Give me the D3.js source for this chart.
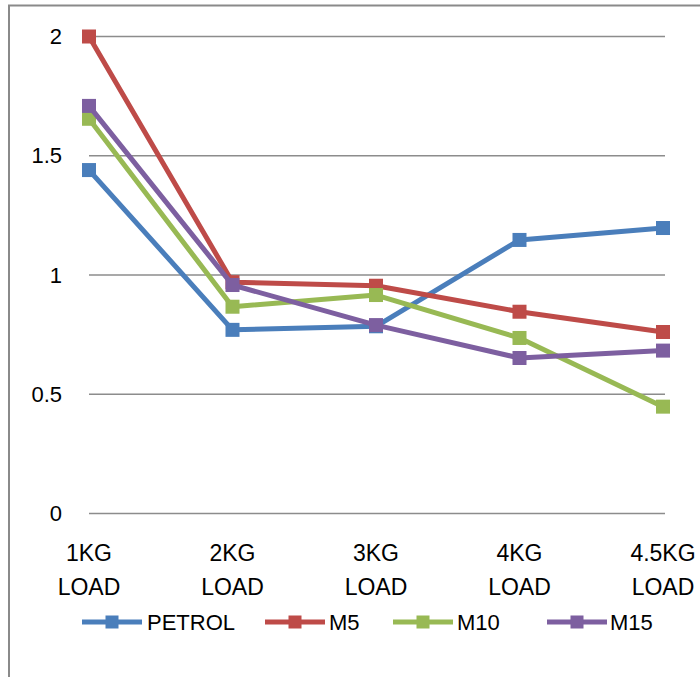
<!DOCTYPE html>
<html><head><meta charset="utf-8">
<script src="https://cdn.jsdelivr.net/npm/d3@7"></script>
<style>
html,body{margin:0;padding:0;background:#fff;}
svg{display:block;font-family:"Liberation Sans",Arial,sans-serif;}
</style></head>
<body>
<svg id="chart" width="700" height="677"></svg>
<script>
const categories = ["1KG LOAD","2KG LOAD","3KG LOAD","4KG LOAD","4.5KG LOAD"];
const seriesNames = ["PETROL","M5","M10","M15"];
const petrol = [1.44, 0.77, 0.785, 1.147, 1.197];
const m5 = [2.0, 0.97, 0.955, 0.846, 0.761];
const m10 = [1.655, 0.867, 0.916, 0.736, 0.448];
const m15 = [1.709, 0.958, 0.79, 0.652, 0.683];
const yTicks = [0, 0.5, 1, 1.5, 2];
const colors = ["#4A7EBB", "#BE4B48", "#98B954", "#7D5FA0"];

const series = [petrol, m5, m10, m15].map((v, i) => ({name: seriesNames[i], values: v, color: colors[i]}));

const svg = d3.select("#chart");
// outer frame
svg.append("path").attr("d", "M9,677 L9,5.5 L700,5.5").attr("fill", "none").attr("stroke", "#8a8a8a").attr("stroke-width", 2);

const x = d3.scalePoint().domain(categories).range([89, 663]);
const y = d3.scaleLinear().domain([0, 2]).range([513.5, 36.5]);

// gridlines
svg.append("g").selectAll("line").data(yTicks).join("line")
  .attr("x1", 89).attr("x2", 665)
  .attr("y1", d => y(d)).attr("y2", d => y(d))
  .attr("stroke", "#8c8c8c").attr("stroke-width", 1.5);

// y axis labels
const yAxis = d3.axisLeft(y).tickValues(yTicks).tickSize(0).tickPadding(0).tickFormat(d3.format("~g"));
const gy = svg.append("g").attr("transform", "translate(62,0)").call(yAxis);
gy.select(".domain").remove();
gy.selectAll("text").attr("font-size", 22).attr("fill", "#000").attr("font-family", "Liberation Sans, Arial, sans-serif");

// x axis labels (two lines)
const gx = svg.append("g");
categories.forEach(c => {
  const parts = c.split(" ");
  const t = gx.append("text").attr("text-anchor", "middle").attr("font-size", 23).attr("fill", "#000");
  t.append("tspan").attr("x", x(c)).attr("y", 561).text(parts[0]);
  t.append("tspan").attr("x", x(c)).attr("y", 595).text(parts[1]);
});

const line = d3.line().x((d, i) => x(categories[i])).y(d => y(d));

series.forEach(s => {
  const g = svg.append("g");
  g.append("path").datum(s.values).attr("d", line)
    .attr("fill", "none").attr("stroke", s.color).attr("stroke-width", 5).attr("stroke-linejoin", "round");
  g.selectAll("rect").data(s.values).join("rect")
    .attr("x", (d, i) => x(categories[i]) - 7).attr("y", d => y(d) - 7)
    .attr("width", 14).attr("height", 14).attr("fill", s.color);
});

// legend
const legendItems = [
  {lx: 82, tx: 147},
  {lx: 265, tx: 329},
  {lx: 393, tx: 457},
  {lx: 547, tx: 610}
];
const lg = svg.append("g");
series.forEach((s, i) => {
  const it = legendItems[i];
  const ly = 622;
  lg.append("line").attr("x1", it.lx).attr("x2", it.lx + 60).attr("y1", ly).attr("y2", ly)
    .attr("stroke", s.color).attr("stroke-width", 5);
  lg.append("rect").attr("x", it.lx + 30 - 6.5).attr("y", ly - 6.5).attr("width", 13).attr("height", 13).attr("fill", s.color);
  lg.append("text").attr("x", it.tx).attr("y", ly + 8).attr("font-size", 22).attr("fill", "#000").text(s.name);
});
</script>
</body></html>
